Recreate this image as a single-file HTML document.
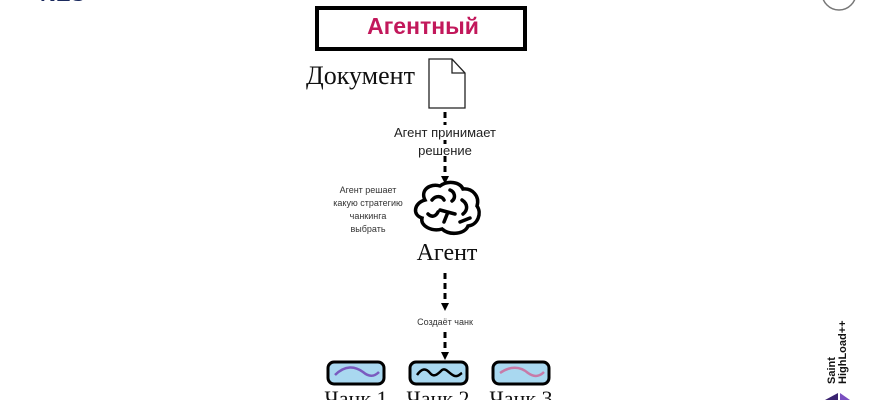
<!DOCTYPE html>
<html><head><meta charset="utf-8"><style>
html,body{margin:0;padding:0;background:#fff;width:870px;height:400px;overflow:hidden;position:relative}
.t{position:absolute;white-space:nowrap;font-family:"Liberation Sans","DejaVu Sans",sans-serif}
.s{font-family:"Liberation Serif","DejaVu Serif",serif}
</style></head><body>
<svg width="870" height="400" style="position:absolute;left:0;top:0">
<rect x="317" y="8" width="208" height="41" fill="#fff" stroke="#000" stroke-width="4"/>
<path d="M429 59 H452 L465 73 V108 H429 Z" fill="#fff" stroke="#222" stroke-width="1.3"/>
<path d="M452 59 V73 H465" fill="none" stroke="#222" stroke-width="1.3"/>
<g stroke="#000" stroke-width="3" stroke-dasharray="6,4">
<line x1="445" y1="112" x2="445" y2="125"/>
<line x1="445" y1="140" x2="445" y2="144"/>
<line x1="445" y1="156" x2="445" y2="176"/>
<line x1="445" y1="273" x2="445" y2="304"/>
<line x1="445" y1="332" x2="445" y2="352"/>
</g>
<g fill="#000">
<path d="M441 176 L449 176 L445 184 Z"/>
<path d="M441 303 L449 303 L445 311 Z"/>
<path d="M441 352 L449 352 L445 360 Z"/>
</g>
<g fill="none" stroke="#000" stroke-width="3.5" stroke-linecap="round">
<path d="M425 200 C420 190 430 183 440 186 C448 180 460 182 463 189 C472 188 480 196 477 206 C482 213 478 225 468 226 C465 234 450 236 442 229 C432 232 420 226 422 218 C412 215 414 203 425 200 Z"/>
<path d="M432 200 C436 195 442 196 444 200"/>
<path d="M450 190 C455 192 456 198 452 201"/>
<path d="M440 210 L455 214 M448 212 L444 222"/>
<path d="M462 200 C468 204 468 210 463 214"/>
<path d="M428 214 C432 218 436 216 438 212"/>
<path d="M460 222 L470 218"/>
</g>
<g stroke="#000" stroke-width="3" fill="#a9d8f0">
<rect x="328" y="362" width="56" height="22" rx="6"/>
<rect x="410" y="362" width="57" height="22" rx="6"/>
<rect x="493" y="362" width="56" height="22" rx="6"/>
</g>
<path d="M335 375 C345 365 355 366 363 372 C370 378 375 376 379 372" fill="none" stroke="#7a5bbf" stroke-width="2.5"/>
<path d="M417 375 C422 368 426 368 430 373 C434 378 438 374 442 370 C446 367 450 375 455 376 C458 377 460 374 462 373" fill="none" stroke="#000" stroke-width="2.5"/>
<path d="M500 373 C510 366 520 366 528 373 C535 378 540 376 544 372" fill="none" stroke="#c77aa8" stroke-width="2.5"/>
<circle cx="839" cy="-7" r="17" fill="none" stroke="#777" stroke-width="1.5"/>
<path d="M825 400 L838 393 L838 400 Z" fill="#3a2470"/>
<path d="M840 393 L850 400 L840 400 Z" fill="#7a4fc0"/>
</svg>
<div class="t" style="left:317px;top:13px;width:212px;text-align:center;font-size:23px;font-weight:bold;color:#c2185b">Агентный</div>
<div class="t s" style="left:306px;top:61px;font-size:26px;color:#111">Документ</div>
<div class="t" style="left:385px;top:124px;width:120px;text-align:center;font-size:13px;line-height:18px;color:#222">Агент принимает<br>решение</div>
<div class="t" style="left:318px;top:184px;width:100px;text-align:center;font-size:9px;line-height:13px;color:#333">Агент решает<br>какую стратегию<br>чанкинга<br>выбрать</div>
<div class="t s" style="left:397px;top:240px;width:100px;text-align:center;font-size:24px;color:#111">Агент</div>
<div class="t" style="left:395px;top:317px;width:100px;text-align:center;font-size:9px;color:#333">Создаёт чанк</div>
<div class="t s" style="left:318px;top:386px;width:76px;text-align:center;font-size:22px;color:#111">Чанк 1</div>
<div class="t s" style="left:400px;top:386px;width:76px;text-align:center;font-size:22px;color:#111">Чанк 2</div>
<div class="t s" style="left:483px;top:386px;width:76px;text-align:center;font-size:22px;color:#111">Чанк 3</div>
<div class="t" style="left:40px;top:-19px;font-size:22px;font-weight:bold;color:#1b2a5e">NES</div>
<div class="t" style="left:803px;top:338px;transform:rotate(-90deg);transform-origin:center;font-size:11px;font-weight:bold;line-height:11px;color:#111;width:70px">Saint<br>HighLoad++</div>
</body></html>
